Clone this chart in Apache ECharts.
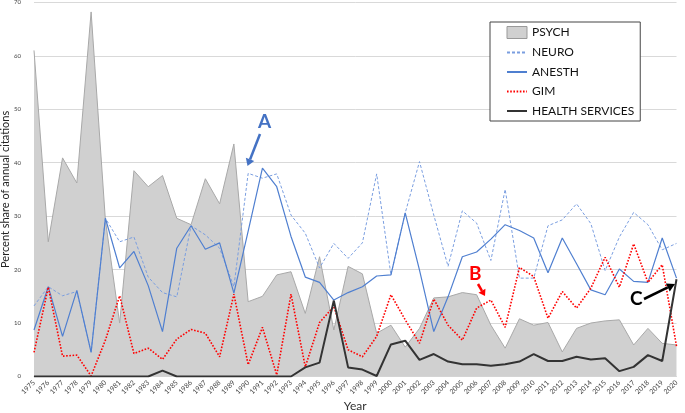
<!DOCTYPE html>
<html><head><meta charset="utf-8">
<script src="https://cdn.jsdelivr.net/npm/echarts@6/dist/echarts.min.js"></script>
<style>html,body{margin:0;padding:0;background:#fff}#c{width:685px;height:413px}</style>
</head><body><div id="c"></div>
<script>
const years = [];
for (let y = 1975; y <= 2020; y++) years.push(String(y));
const psych = [61,25.2,40.9,36.2,68.2,29.3,10,38.5,35.5,37.6,29.6,28.4,37,32.3,43.5,14,15,19,19.6,11.8,22.4,8.7,20.6,19.2,8.1,9.6,5.5,9,14.7,14.9,15.7,15.3,9.6,5.3,10.8,9.6,10.1,4.6,9,10,10.4,10.6,5.9,9,6.2,5.9];
const neuro = [13.2,16.8,15.1,15.9,4.6,29.6,25.2,26.1,18.6,15.7,14.9,28.2,26.5,24,16.8,38,37.1,37.9,30.2,26.8,20.3,24.9,22.1,25,37.9,19,30.6,40.2,30.2,20.6,31,28.7,21.7,35,18.4,18.4,28.2,29.3,32.3,28.6,19.8,26.1,30.7,28.4,23.7,24.9];
const anesth = [8.7,16.8,7.5,16.1,4.5,29.6,20.3,23.4,17,8.4,24,28.2,23.8,25,15.6,27.2,39,35.5,26.2,18.6,17.6,14.3,15.7,16.8,18.8,19,30.6,19.9,8.4,14.9,22.4,23.3,25.7,28.4,27.3,25.9,19.4,25.9,21.1,16.2,15.3,20.1,17.8,17.6,25.9,18.4];
const gim = [4.5,16.7,3.8,4,0.1,6.8,15.1,4.3,5.3,3.2,7,8.8,8.1,3.7,15.4,2.2,9.2,0.3,15.4,1.8,10.1,13.1,5,3.7,7.5,15.3,10.6,6.2,14.5,9.6,6.8,12.8,14.3,9.2,20.4,18.7,10.9,15.9,12.8,16.5,22.3,16.7,24.8,17.6,20.9,5.7];
const health = [0,0,0,0,0,0,0,0,0,1.1,0,0,0,0,0,0,0,0,0,1.7,2.6,14.2,1.7,1.3,0.1,6,6.7,3.1,4.2,2.8,2.3,2.3,2,2.3,2.8,4.2,2.9,2.9,3.7,3.2,3.4,1,1.8,4,2.9,18.2];
const yTicks = [0,10,20,30,40,50,60,70];

const FONT = 'Lato, "Liberation Sans", sans-serif';

function arrow(x1,y1,x2,y2,color,w,hl,hw){
  const dx=x2-x1, dy=y2-y1, L=Math.hypot(dx,dy), ux=dx/L, uy=dy/L;
  const bx=x2-ux*hl, by=y2-uy*hl;
  return [
    {type:'line',shape:{x1:x1,y1:y1,x2:bx,y2:by},style:{stroke:color,lineWidth:w},z:100},
    {type:'polygon',shape:{points:[[x2,y2],[bx-uy*hw,by+ux*hw],[bx+uy*hw,by-ux*hw]]},style:{fill:color},z:100}
  ];
}

const hide = {opacity:0};
const chart = echarts.init(document.getElementById('c'));
chart.setOption({
  animation:false,
  textStyle:{fontFamily:FONT},
  grid:{left:34,right:8.5,top:2.3,bottom:36.5,containLabel:false,outerBoundsMode:'none'},
  legend:{
    orient:'vertical',left:490,top:22,
    backgroundColor:'#fff',borderColor:'#444',borderWidth:1,
    padding:[4,6,4,16],itemGap:7.5,itemWidth:20,itemHeight:12,
    textStyle:{fontSize:12,color:'#111',fontFamily:FONT},
    data:[
      {name:'PSYCH',icon:'rect',itemStyle:{color:'#d0d0d0',borderColor:'#999',borderWidth:1}},
      {name:'NEURO',itemStyle:hide},{name:'ANESTH',itemStyle:hide},
      {name:'GIM',itemStyle:hide},{name:'HEALTH SERVICES',itemStyle:hide}
    ]
  },
  xAxis:{
    type:'category',data:years,boundaryGap:false,
    name:'Year',nameLocation:'middle',nameGap:24,nameMoveOverlap:false,
    nameTextStyle:{fontSize:12,color:'#333',fontFamily:FONT},
    axisLine:{lineStyle:{color:'#d9d9d9'}},axisTick:{show:false},
    axisLabel:{interval:0,rotate:45,fontSize:7,color:'#444',margin:5}
  },
  yAxis:{
    type:'value',min:0,max:70,interval:10,
    name:'Percent share of annual citations',nameLocation:'middle',nameGap:23,nameMoveOverlap:false,
    nameTextStyle:{fontSize:11,color:'#222',fontFamily:FONT},
    axisLine:{show:false},axisTick:{show:false},
    splitLine:{lineStyle:{color:'#d9d9d9',width:1}},
    axisLabel:{fontSize:6,color:'#444',margin:13,formatter:v=>yTicks.includes(v)?String(v):''}
  },
  series:[
    {name:'PSYCH',type:'line',data:psych,symbol:'none',
      lineStyle:{color:'#a8a8a8',width:1},itemStyle:{color:'#d0d0d0'},
      areaStyle:{color:'#d0d0d0',opacity:1},z:1},
    {name:'NEURO',type:'line',data:neuro,symbol:'none',
      lineStyle:{color:'#7a9ee0',width:1,type:[3,2]},itemStyle:{color:'#7a9ee0'},z:2},
    {name:'ANESTH',type:'line',data:anesth,symbol:'none',
      lineStyle:{color:'#4f7fd0',width:1.2},itemStyle:{color:'#4f7fd0'},z:3},
    {name:'GIM',type:'line',data:gim,symbol:'none',
      lineStyle:{color:'#ff0000',width:1.6,type:[1.6,1.6]},itemStyle:{color:'#ff0000'},z:4},
    {name:'HEALTH SERVICES',type:'line',data:health,symbol:'none',
      lineStyle:{color:'#333',width:2},itemStyle:{color:'#333'},z:5}
  ],
  graphic:[
    {type:'text',left:258,top:112,style:{text:'A',font:'bold 19px '+FONT,fill:'#4472c4'},z:100},
    ...arrow(260,134,247.5,166,'#4472c4',2.5,7,4.5),
    {type:'text',left:469,top:264,style:{text:'B',font:'bold 19px '+FONT,fill:'#ff0000'},z:100},
    ...arrow(478,284,485,296,'#ff0000',2.5,6,4),
    {type:'text',left:630,top:289,style:{text:'C',font:'bold 19px '+FONT,fill:'#000'},z:100},
    ...arrow(644,299,675,284,'#000',2.5,8,4.5)
  ]
});
</script></body></html>
